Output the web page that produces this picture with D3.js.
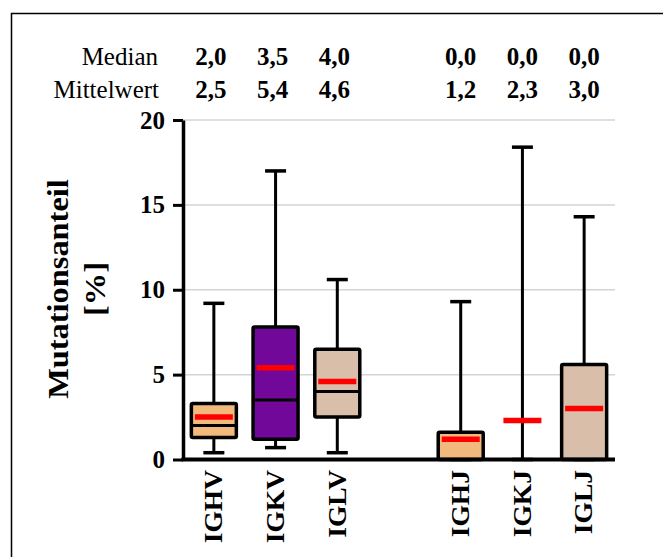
<!DOCTYPE html>
<html>
<head>
<meta charset="utf-8">
<script src="https://cdn.jsdelivr.net/npm/d3@7"></script>
<style>
  body { margin: 0; background: #fff; }
  text { font-family: "Liberation Serif", "Times New Roman", serif; }
</style>
</head>
<body>
<div id="chart"></div>
<script>
// box plot data (percent)
var categories = ["IGHV", "IGKV", "IGLV", "IGHJ", "IGKJ", "IGLJ"];
var slots = ["IGHV", "IGKV", "IGLV", "gap", "IGHJ", "IGKJ", "IGLJ"];
var whiskerLow = [0.4, 0.7, 0.4, 0, 0, 0];
var q1 = [1.3, 1.2, 2.5, 0, 0, 0];
var median = [2.0, 3.5, 4.0, 0, 0, 0];
var q3 = [3.3, 7.8, 6.5, 1.6, 0, 5.6];
var whiskerHigh = [9.2, 17.0, 10.6, 9.3, 18.4, 14.3];
var mean = [2.5, 5.4, 4.6, 1.2, 2.3, 3.0];
var medianLabels = ["2,0", "3,5", "4,0", "0,0", "0,0", "0,0"];
var meanLabels = ["2,5", "5,4", "4,6", "1,2", "2,3", "3,0"];
var yTicks = [0, 5, 10, 15, 20];
var fills = ["#F2B97D", "#72089A", "#D9BFAA", "#F2B97D", "#72089A", "#D9BFAA"];

var width = 663, height = 557,
    plotLeft = 183, plotRight = 615, plotTop = 120, plotBottom = 459.5,
    boxW = 45, capW = 21, meanW = 38;

var svg = d3.select("#chart").append("svg")
    .attr("width", width)
    .attr("height", height);

// frame
svg.append("rect")
    .attr("x", 11.5).attr("y", 13.5)
    .attr("width", 700).attr("height", 600)
    .attr("fill", "none").attr("stroke", "#000").attr("stroke-width", 1.5);

var x = d3.scaleBand().domain(slots).range([plotLeft, plotRight]).padding(0);
var y = d3.scaleLinear().domain([0, 20]).range([plotBottom, plotTop]);

function cx(i) { return x(categories[i]) + x.bandwidth() / 2; }

// grid
svg.append("g").selectAll("line")
    .data(yTicks.filter(function(d) { return d > 0; }))
    .enter().append("line")
      .attr("x1", plotLeft).attr("x2", plotRight)
      .attr("y1", function(d) { return y(d); })
      .attr("y2", function(d) { return y(d); })
      .attr("stroke", "#d4d4d4").attr("stroke-width", 1.5);

// header rows
svg.append("text").attr("x", 158).attr("y", 65)
    .attr("text-anchor", "end").style("font-size", "25px").text("Median");
svg.append("text").attr("x", 159).attr("y", 98)
    .attr("text-anchor", "end").style("font-size", "25px").text("Mittelwert");

var head = svg.append("g").style("font-size", "25px").style("font-weight", "bold")
    .attr("text-anchor", "middle");
categories.forEach(function(c, i) {
  head.append("text").attr("x", cx(i) - (i < 3 ? 3 : 0)).attr("y", 65).text(medianLabels[i]);
  head.append("text").attr("x", cx(i) - (i < 3 ? 3 : 0)).attr("y", 98).text(meanLabels[i]);
});

// boxes
var boxes = svg.append("g").selectAll("g")
    .data(categories)
    .enter().append("g");

boxes.append("line")
    .attr("x1", function(d, i) { return cx(i); })
    .attr("x2", function(d, i) { return cx(i); })
    .attr("y1", function(d, i) { return y(whiskerHigh[i]); })
    .attr("y2", function(d, i) { return y(whiskerLow[i]); })
    .attr("stroke", "#000").attr("stroke-width", 3);

[whiskerHigh, whiskerLow].forEach(function(arr) {
  boxes.append("line")
      .attr("x1", function(d, i) { return cx(i) - capW / 2; })
      .attr("x2", function(d, i) { return cx(i) + capW / 2; })
      .attr("y1", function(d, i) { return y(arr[i]); })
      .attr("y2", function(d, i) { return y(arr[i]); })
      .attr("stroke", "#000").attr("stroke-width", 3.5);
});

boxes.filter(function(d, i) { return q3[i] > q1[i]; })
  .append("rect")
    .attr("x", function(d) { return cx(categories.indexOf(d)) - boxW / 2; })
    .attr("y", function(d) { return y(q3[categories.indexOf(d)]); })
    .attr("width", boxW)
    .attr("height", function(d) { var i = categories.indexOf(d); return y(q1[i]) - y(q3[i]); })
    .attr("fill", function(d) { return fills[categories.indexOf(d)]; })
    .attr("stroke", "#000").attr("stroke-width", 3.5)
    .attr("rx", 1.5);

boxes.append("line")
    .attr("x1", function(d, i) { return cx(i) - boxW / 2; })
    .attr("x2", function(d, i) { return cx(i) + boxW / 2; })
    .attr("y1", function(d, i) { return y(median[i]); })
    .attr("y2", function(d, i) { return y(median[i]); })
    .attr("stroke", "#000").attr("stroke-width", 3);

boxes.append("line")
    .attr("x1", function(d, i) { return cx(i) - meanW / 2; })
    .attr("x2", function(d, i) { return cx(i) + meanW / 2; })
    .attr("y1", function(d, i) { return y(mean[i]); })
    .attr("y2", function(d, i) { return y(mean[i]); })
    .attr("stroke", "#ff0000").attr("stroke-width", 5.5);

// y axis
var yAxis = d3.axisLeft(y).tickValues(yTicks).tickSize(10).tickSizeOuter(0).tickPadding(8);
var gy = svg.append("g")
    .attr("transform", "translate(" + plotLeft + ",0)")
    .call(yAxis);
gy.select(".domain").attr("stroke-width", 3.5);
gy.selectAll(".tick line").attr("stroke-width", 3);
gy.selectAll(".tick text")
    .style("font-family", "'Liberation Serif', serif")
    .style("font-size", "25px").style("font-weight", "bold").attr("fill", "#000");

// x axis line
svg.append("line")
    .attr("x1", plotLeft - 1.5).attr("x2", plotRight)
    .attr("y1", plotBottom).attr("y2", plotBottom)
    .attr("stroke", "#000").attr("stroke-width", 4);

// x labels
svg.append("g").selectAll("text")
    .data(categories)
    .enter().append("text")
      .attr("transform", function(d, i) {
        return "translate(" + cx(i) + ",470) rotate(-90) scale(1.1,1)";
      })
      .attr("text-anchor", "end")
      .attr("dy", "0.33em")
      .style("font-size", "25px").style("font-weight", "bold")
      .text(function(d) { return d; });

// y title
var title = svg.append("g").style("font-size", "30px").style("font-weight", "bold")
    .attr("text-anchor", "middle");
title.append("text")
    .attr("transform", "translate(68,289) rotate(-90) scale(1.08,1)")
    .text("Mutationsanteil");
title.append("text")
    .attr("transform", "translate(105,289) rotate(-90) scale(1.08,1)")
    .text("[%]");
</script>
</body>
</html>
